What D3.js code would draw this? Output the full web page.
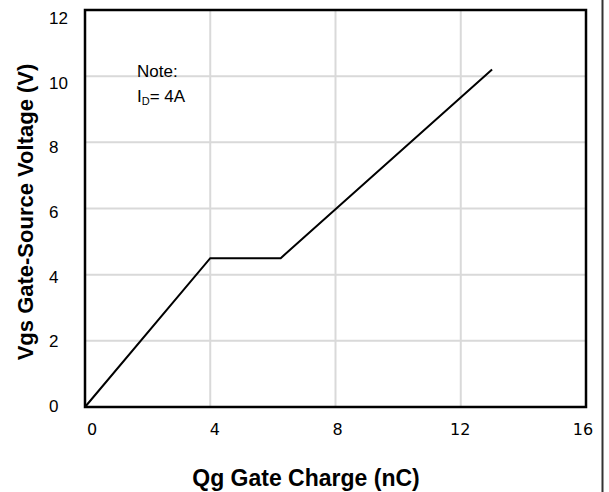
<!DOCTYPE html>
<html>
<head>
<meta charset="utf-8">
<script src="https://cdn.jsdelivr.net/npm/d3@7/dist/d3.min.js"></script>
<style>
  html, body { margin: 0; padding: 0; background: #fff; }
  svg { display: block; }
</style>
</head>
<body>
<svg id="chart" width="609" height="492"></svg>
<script>
// Data: gate charge curve (nC, V)
const qg = [0, 4, 6.25, 13.0];
const vgs = [0, 4.5, 4.5, 10.2];
const xTicks = [0, 4, 8, 12, 16];
const yTicks = [0, 2, 4, 6, 8, 10, 12];
const xTitle = "Qg Gate Charge (nC)";
const yTitle = "Vgs Gate-Source Voltage (V)";
const noteLines = ["Note:", "I", "D", "= 4A"];

const svg = d3.select("#chart");
const pL = 85, pR = 586, pT = 10, pB = 407;

const x = d3.scaleLinear().domain([0, 16]).range([pL, pR]);
const y = d3.scaleLinear().domain([0, 12]).range([pB, pT]);
// label placement scales (labels sit slightly offset from their ticks)
const xl = d3.scaleLinear().domain([0, 16]).range([92, 583]);
const yl = d3.scaleLinear().domain([0, 12]).range([406, 18]);

// gridlines
svg.append("g")
  .selectAll("line")
  .data(xTicks.filter(d => d > 0 && d < 16))
  .join("line")
  .attr("x1", d => x(d)).attr("x2", d => x(d))
  .attr("y1", pT).attr("y2", pB)
  .attr("stroke", "#d9d9d9").attr("stroke-width", 2);
svg.append("g")
  .selectAll("line")
  .data(yTicks.filter(d => d > 0 && d < 12))
  .join("line")
  .attr("x1", pL).attr("x2", pR)
  .attr("y1", d => y(d)).attr("y2", d => y(d))
  .attr("stroke", "#d9d9d9").attr("stroke-width", 2);

// curve
const line = d3.line().x((d, i) => x(qg[i])).y((d, i) => y(vgs[i]));
svg.append("path")
  .attr("d", line(qg))
  .attr("fill", "none")
  .attr("stroke", "#000")
  .attr("stroke-width", 2);

// frame
svg.append("rect")
  .attr("x", pL).attr("y", pT)
  .attr("width", pR - pL).attr("height", pB - pT)
  .attr("fill", "none").attr("stroke", "#000").attr("stroke-width", 2.5);

// right edge rule
svg.append("line")
  .attr("x1", 602.5).attr("x2", 602.5).attr("y1", 0).attr("y2", 492)
  .attr("stroke", "#333").attr("stroke-width", 2);

// x tick labels
svg.append("g")
  .selectAll("text")
  .data(xTicks)
  .join("text")
  .attr("x", d => xl(d)).attr("y", 435)
  .attr("text-anchor", "middle")
  .attr("font-family", "DejaVu Sans, sans-serif")
  .attr("font-size", 16)
  .attr("fill", "#000")
  .text(d => d);

// y tick labels
svg.append("g")
  .selectAll("text")
  .data(yTicks)
  .join("text")
  .attr("x", 49).attr("y", d => yl(d))
  .attr("dy", "0.35em")
  .attr("text-anchor", "start")
  .attr("font-family", "Liberation Sans, Arial, sans-serif")
  .attr("font-size", 17)
  .attr("fill", "#000")
  .text(d => d);

// axis titles
svg.append("text")
  .attr("x", 306).attr("y", 486)
  .attr("text-anchor", "middle")
  .attr("font-family", "Liberation Sans, Arial, sans-serif")
  .attr("font-weight", "bold")
  .attr("font-size", 23)
  .text(xTitle);
svg.append("text")
  .attr("transform", "translate(33,212) rotate(-90)")
  .attr("text-anchor", "middle")
  .attr("font-family", "Liberation Sans, Arial, sans-serif")
  .attr("font-weight", "bold")
  .attr("font-size", 22)
  .text(yTitle);

// note
const note = svg.append("g")
  .attr("font-family", "Liberation Sans, Arial, sans-serif")
  .attr("font-size", 17)
  .attr("fill", "#000");
note.append("text").attr("x", 137).attr("y", 77).text(noteLines[0]);
const t2 = note.append("text").attr("x", 137).attr("y", 102);
t2.append("tspan").text(noteLines[1]);
t2.append("tspan").attr("font-size", 11).attr("dy", 3).text(noteLines[2]);
t2.append("tspan").attr("dy", -3).text(noteLines[3]);
</script>
</body>
</html>
